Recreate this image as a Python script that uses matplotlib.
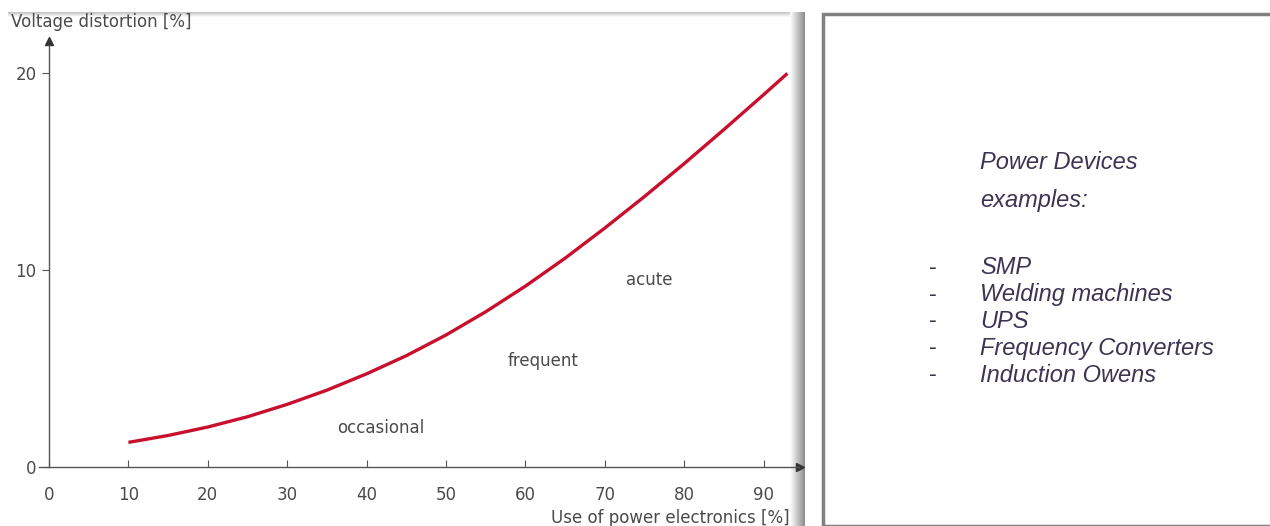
import numpy as np
import matplotlib
matplotlib.use("Agg")
from matplotlib import pyplot as plt
from matplotlib.patches import Rectangle

# data
use_pct = [10, 15, 20, 25, 30, 35, 40, 45, 50, 55, 60, 65, 70, 75, 80, 85, 90, 93]
distortion = [1.25, 1.60, 2.03, 2.55, 3.18, 3.90, 4.73, 5.65, 6.70, 7.88, 9.18, 10.6,
              12.13, 13.73, 15.4, 17.13, 18.9, 19.98]
x_ticks = [0, 10, 20, 30, 40, 50, 60, 70, 80, 90]
y_ticks = [0, 10, 20]
zones = ["occasional", "frequent", "acute"]
zone_x = [41.8, 62.2, 75.6]
zone_y = [2.0, 5.4, 9.5]
devices = ["SMP", "Welding machines", "UPS", "Frequency Converters", "Induction Owens"]

W, H = 1270, 526
fig = plt.figure(figsize=(W / 100, H / 100), dpi=100)
fig.patch.set_facecolor("white")

def fx(px):
    return px / W

def fy(py):
    return 1 - py / H

narrow = ["Liberation Sans Narrow", "DejaVu Sans"]
gray_txt = "#4a4a4a"

# background layer: shadows around the left picture
bg = fig.add_axes([0, 0, 1, 1], zorder=0)
bg.set_xlim(0, W)
bg.set_ylim(H, 0)
bg.axis("off")
grad = np.linspace(1.0, 0.55, 50).reshape(1, -1)
bg.imshow(grad, cmap="gray", vmin=0, vmax=1, aspect="auto",
          extent=(790, 805, H, 12), interpolation="bilinear")
gtop = np.linspace(0.75, 1.0, 20).reshape(-1, 1)
bg.imshow(gtop, cmap="gray", vmin=0, vmax=1, aspect="auto",
          extent=(8, 790, 17, 12), interpolation="bilinear")

# right text box
fig.add_artist(Rectangle((fx(823), 0), fx(W) - fx(823) + 0.01, fy(13.5),
                         transform=fig.transFigure, facecolor="white",
                         edgecolor="#808080", linewidth=2.5, zorder=1))

# main chart: x 0 at px 49, 7.94 px/unit; y 0 at px 467, 19.7 px/unit
xlo, xhi = -6, 96
ylo, yhi = -3, 23
left = 49 + xlo * 7.94
right = 49 + xhi * 7.94
bottom = 467 - ylo * 19.7
top = 467 - yhi * 19.7
ax = fig.add_axes([fx(left), fy(bottom), fx(right) - fx(left), fy(top) - fy(bottom)], zorder=2)
ax.patch.set_alpha(0)
ax.set_xlim(xlo, xhi)
ax.set_ylim(ylo, yhi)

for s in ["top", "right"]:
    ax.spines[s].set_visible(False)
ax.spines["left"].set_position(("data", 0))
ax.spines["bottom"].set_position(("data", 0))
ax.spines["left"].set_bounds(0, 21.4)
ax.spines["bottom"].set_bounds(-1.2, 94.5)
for s in ["left", "bottom"]:
    ax.spines[s].set_color("#555555")
    ax.spines[s].set_linewidth(1.0)
ax.plot([94.6], [0], marker=">", color="#333333", markersize=6, clip_on=False)
ax.plot([0], [21.6], marker="^", color="#333333", markersize=6, clip_on=False)

ax.set_xticks(x_ticks)
ax.set_yticks(y_ticks)
ax.set_xticklabels([str(v) for v in x_ticks], family=narrow, fontsize=12, color=gray_txt)
ax.set_yticklabels([str(v) for v in y_ticks], family=narrow, fontsize=12, color=gray_txt)
ax.tick_params(axis="x", direction="in", length=5, color="#555555", pad=14)
ax.tick_params(axis="y", direction="out", length=5, color="#555555", pad=4)

ax.plot(use_pct, distortion, color="#c8102e", linewidth=2.4,
        solid_capstyle="butt", solid_joinstyle="round")

for name, zx, zy in zip(zones, zone_x, zone_y):
    ax.text(zx, zy, name, ha="center", va="center", family=narrow, fontsize=12, color=gray_txt)

fig.text(fx(11), fy(22), "Voltage distortion [%]", ha="left", va="center",
         family=narrow, fontsize=12, color=gray_txt)
fig.text(fx(790), fy(518), "Use of power electronics [%]", ha="right", va="center",
         family=narrow, fontsize=12, color=gray_txt)

# right panel text
txt_col = "#3d3452"
fs = 17
fig.text(fx(980), fy(163), "Power Devices", ha="left", va="center",
         family="Liberation Sans", style="italic", fontsize=fs, color=txt_col)
fig.text(fx(980), fy(201), "examples:", ha="left", va="center",
         family="Liberation Sans", style="italic", fontsize=fs, color=txt_col)
item_y = [268, 295, 321, 348, 375]
for name, iy in zip(devices, item_y):
    fig.text(fx(929), fy(iy), "-", ha="left", va="center",
             family="Liberation Sans", fontsize=fs, color=txt_col)
    fig.text(fx(980), fy(iy), name, ha="left", va="center",
             family="Liberation Sans", style="italic", fontsize=fs, color=txt_col)

fig.savefig("out.png", dpi=100)
